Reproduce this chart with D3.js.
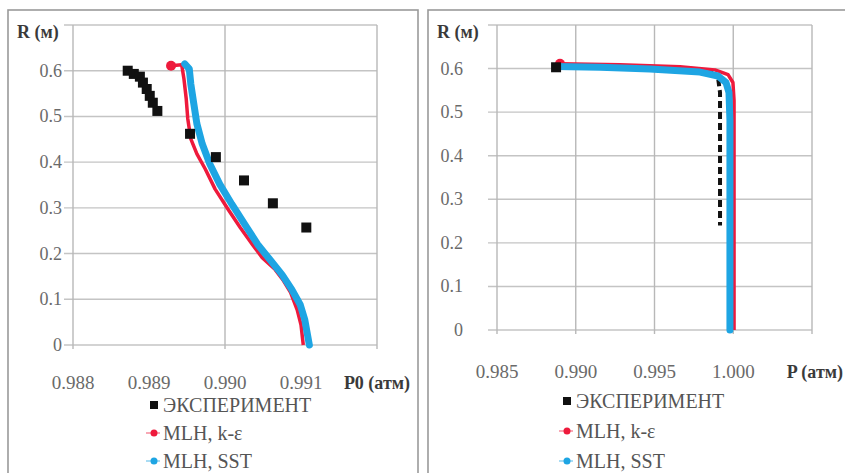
<!DOCTYPE html>
<html>
<head>
<meta charset="utf-8">
<script src="https://cdn.jsdelivr.net/npm/d3@7"></script>
<style>
  html, body { margin: 0; padding: 0; background: #fff; }
  svg { display: block; }
</style>
</head>
<body>
<svg id="chart" width="845" height="473" font-family="'Liberation Serif', 'Times New Roman', Tinos, serif"></svg>
<script>
// Series names (legend order)
const seriesNames = ["ЭКСПЕРИМЕНТ", "MLH, k-ε", "MLH, SST"];

// ---- Left panel: total pressure P0 vs radius R ----
const leftExpP = [0.98872, 0.98880, 0.98888, 0.98892, 0.98897, 0.98901, 0.98905, 0.98911,
                  0.98954, 0.98988, 0.99025, 0.99063, 0.99107];
const leftExpR = [0.600, 0.593, 0.587, 0.574, 0.560, 0.545, 0.530, 0.512,
                  0.462, 0.411, 0.360, 0.310, 0.257];

const leftKeP = [0.98929, 0.98943, 0.98946, 0.98949, 0.98951, 0.98955, 0.98963, 0.98974,
                 0.98987, 0.99004, 0.99020, 0.99036, 0.99049, 0.99066, 0.99076, 0.99086,
                 0.99095, 0.99100, 0.99103];
const leftKeR = [0.611, 0.613, 0.582, 0.538, 0.495, 0.451, 0.418, 0.385,
                 0.341, 0.297, 0.257, 0.220, 0.191, 0.165, 0.143, 0.116,
                 0.077, 0.044, 0.000];

const leftSstP = [0.98947, 0.98953, 0.98955, 0.98959, 0.98963, 0.98970, 0.98980, 0.98993,
                  0.99009, 0.99026, 0.99043, 0.99059, 0.99075, 0.99088, 0.99099, 0.99105,
                  0.99111];
const leftSstR = [0.615, 0.604, 0.571, 0.527, 0.484, 0.440, 0.396, 0.352,
                  0.308, 0.264, 0.220, 0.187, 0.154, 0.121, 0.088, 0.055,
                  0.000];

const leftTicks = [0.988, 0.989, 0.990, 0.991];
const leftGrid = [0.988, 0.990, 0.992];

// ---- Right panel: static pressure P vs radius R ----
const rightExpP = [0.98875, 0.99200, 0.99500, 0.99750, 0.99860, 0.99905, 0.99916, 0.99916,
                   0.99916, 0.99916, 0.99916, 0.99916, 0.99916];
const rightExpR = [0.603, 0.603, 0.600, 0.595, 0.591, 0.575, 0.545, 0.512,
                   0.462, 0.411, 0.360, 0.310, 0.240];

const rightKeP = [0.98900, 0.99281, 0.99662, 0.99884, 0.99967, 0.99998, 1.00005, 1.00005];
const rightKeR = [0.611, 0.609, 0.604, 0.597, 0.586, 0.568, 0.527, 0.000];

const rightSstP = [0.98875, 0.99154, 0.99471, 0.99789, 0.99903, 0.99954, 0.99973, 0.99979,
                   0.99979, 0.99979];
const rightSstR = [0.605, 0.603, 0.599, 0.592, 0.583, 0.568, 0.545, 0.481,
                   0.298, 0.000];

const rightTicks = [0.985, 0.990, 0.995, 1.000];
const rightGrid = [0.985, 0.990, 0.995, 1.000, 1.005];

const rTicks = [0, 0.1, 0.2, 0.3, 0.4, 0.5, 0.6];
const rDomain = [0, 0.7];

const colors = { exp: "#111111", ke: "#ee1a3c", sst: "#1ea5e3" };

const svg = d3.select("#chart");
const zip = (a, b) => a.map((v, i) => [v, b[i]]);

function drawPanel(cfg) {
  const g = svg.append("g");

  // panel frame
  g.append("rect")
    .attr("x", cfg.frame[0]).attr("y", cfg.frame[1])
    .attr("width", cfg.frame[2]).attr("height", cfg.frame[3])
    .attr("fill", "#fff").attr("stroke", "#9a9a9a").attr("stroke-width", 1.6);

  const x = d3.scaleLinear().domain(cfg.xDomain).range([cfg.plot.l, cfg.plot.r]);
  const y = d3.scaleLinear().domain(rDomain).range([cfg.plot.b, cfg.plot.t]);

  // horizontal gridlines (with outward tick stubs)
  g.append("g").selectAll("line")
    .data(d3.range(0, 0.71, 0.1))
    .join("line")
    .attr("x1", cfg.plot.l - 9).attr("x2", cfg.plot.r)
    .attr("y1", d => y(d)).attr("y2", d => y(d))
    .attr("stroke", "#c4c4c4").attr("stroke-width", 1.4);

  // vertical gridlines
  g.append("g").selectAll("line")
    .data(cfg.grid)
    .join("line")
    .attr("x1", d => x(d)).attr("x2", d => x(d))
    .attr("y1", cfg.plot.t).attr("y2", cfg.plot.b + 4)
    .attr("stroke", "#b8b8b8").attr("stroke-width", 1.4);

  // y tick labels
  const yFmt = d => d === 0 ? "0" : d3.format(".1f")(d);
  g.append("g").selectAll("text")
    .data(rTicks)
    .join("text")
    .attr("x", cfg.yLabelX).attr("y", d => y(d) + 6)
    .attr("text-anchor", "end")
    .attr("font-size", 18).attr("fill", "#6a6a6a")
    .text(yFmt);

  // y axis title
  g.append("text")
    .attr("x", cfg.yTitle[0]).attr("y", cfg.yTitle[1])
    .attr("font-size", 18).attr("font-weight", "bold").attr("fill", "#3a3a3a")
    .text("R (м)");

  // x tick labels
  g.append("g").selectAll("text")
    .data(cfg.ticks)
    .join("text")
    .attr("x", d => x(d)).attr("y", cfg.xLabelY)
    .attr("text-anchor", "middle")
    .attr("font-size", 19).attr("fill", "#6a6a6a")
    .text(d => d3.format(".3f")(d));

  // x axis title
  g.append("text")
    .attr("x", cfg.xTitle).attr("y", cfg.xLabelY)
    .attr("text-anchor", "end")
    .attr("font-size", 18).attr("font-weight", "bold").attr("fill", "#3a3a3a")
    .text(cfg.xTitleText);

  const line = d3.line().x(d => x(d[0])).y(d => y(d[1]));
  const ex = zip(cfg.expP, cfg.expR);

  // experiment as a dashed trace, kept beneath the model curves
  if (cfg.expDashed) {
    g.append("path").attr("d", line(ex))
      .attr("fill", "none").attr("stroke", colors.exp)
      .attr("stroke-width", 4).attr("stroke-dasharray", "7,4");
  }

  // k-epsilon model
  const ke = zip(cfg.keP, cfg.keR);
  g.append("path").attr("d", line(ke))
    .attr("fill", "none").attr("stroke", colors.ke)
    .attr("stroke-width", 3.5).attr("stroke-linejoin", "round");
  g.append("circle")
    .attr("cx", x(ke[0][0])).attr("cy", y(ke[0][1])).attr("r", 5)
    .attr("fill", colors.ke);

  // SST model
  const sst = zip(cfg.sstP, cfg.sstR);
  g.append("path").attr("d", line(sst))
    .attr("fill", "none").attr("stroke", colors.sst)
    .attr("stroke-width", 7).attr("stroke-linejoin", "round").attr("stroke-linecap", "round");

  // experiment markers
  if (cfg.expDashed) {
    g.append("rect")
      .attr("x", x(ex[0][0]) - 5).attr("y", y(ex[0][1]) - 5)
      .attr("width", 10).attr("height", 10).attr("fill", colors.exp);
  } else {
    g.append("g").selectAll("rect")
      .data(ex)
      .join("rect")
      .attr("x", d => x(d[0]) - 5).attr("y", d => y(d[1]) - 5)
      .attr("width", 10).attr("height", 10)
      .attr("fill", colors.exp);
  }

  // legend
  const lg = g.append("g");
  seriesNames.forEach((name, i) => {
    const ly = cfg.legend[1] + i * cfg.legendStep;
    const mx = cfg.legend[0];
    if (i === 0) {
      lg.append("rect").attr("x", mx - 4).attr("y", ly - 4)
        .attr("width", 8).attr("height", 8).attr("fill", colors.exp);
    } else {
      const c = i === 1 ? colors.ke : colors.sst;
      lg.append("line").attr("x1", mx - 8).attr("x2", mx + 6)
        .attr("y1", ly).attr("y2", ly)
        .attr("stroke", c).attr("stroke-width", 1.5).attr("opacity", 0.5);
      lg.append("circle").attr("cx", mx).attr("cy", ly).attr("r", 3.5).attr("fill", c);
    }
    lg.append("text")
      .attr("x", mx + 9).attr("y", ly + 7)
      .attr("font-size", 20).attr("fill", "#555")
      .text(name);
  });
}

drawPanel({
  frame: [8, 10, 410, 480],
  plot: { l: 73, r: 377, t: 25, b: 345 },
  xDomain: [0.988, 0.992],
  grid: leftGrid,
  ticks: leftTicks,
  yLabelX: 62,
  yTitle: [17, 38],
  xLabelY: 389,
  xTitle: 410,
  xTitleText: "P0 (атм)",
  expP: leftExpP, expR: leftExpR,
  keP: leftKeP, keR: leftKeR,
  sstP: leftSstP, sstR: leftSstR,
  expDashed: false,
  legend: [154, 405],
  legendStep: 28
});

drawPanel({
  frame: [428, 10, 430, 480],
  plot: { l: 497, r: 812, t: 25, b: 330 },
  xDomain: [0.985, 1.005],
  grid: rightGrid,
  ticks: rightTicks,
  yLabelX: 463,
  yTitle: [437, 38],
  xLabelY: 378,
  xTitle: 843,
  xTitleText: "P (атм)",
  expP: rightExpP, expR: rightExpR,
  keP: rightKeP, keR: rightKeR,
  sstP: rightSstP, sstR: rightSstR,
  expDashed: true,
  legend: [567, 401],
  legendStep: 30
});
</script>
</body>
</html>
